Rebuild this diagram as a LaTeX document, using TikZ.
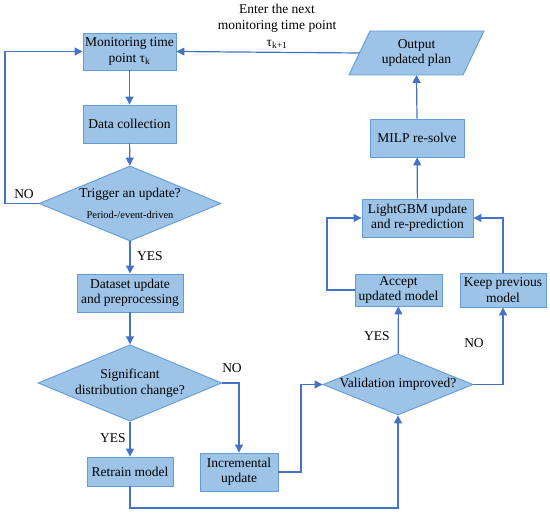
\documentclass[tikz,border=0pt]{standalone}
\usepackage{fontspec}
\setmainfont{Liberation Serif}
\usetikzlibrary{shapes.geometric,arrows.meta}
\definecolor{boxfill}{RGB}{157,195,230}
\definecolor{boxline}{RGB}{100,155,215}
\definecolor{arr}{RGB}{68,114,196}
\newcommand{\mainsz}{\rmfamily\fontsize{13.5}{15.5}\selectfont}
\tikzset{
  base/.style={draw=boxline, fill=boxfill, line width=0.9pt, inner sep=1pt, align=center, font=\mainsz},
  box/.style={base, rectangle},
  dia/.style={base, diamond},
  conn/.style={draw=arr, line width=1.2pt, -{Triangle[length=8pt,width=8pt]}},
  lab/.style={font=\mainsz, inner sep=0pt}
}
\begin{document}
\begin{tikzpicture}[x=1pt,y=-1pt]
\useasboundingbox (0,0) rectangle (550,513);
% nodes
\node[box, minimum width=93, minimum height=37] (mon) at (129.5,51.5) {Monitoring time\\point τ\textsubscript{k}};
\node[box, minimum width=93, minimum height=38] (data) at (129.5,124) {Data collection};
\node[dia, minimum width=182, minimum height=75, aspect=2.4] (trig) at (130,203.5) {Trigger an update?\\[5pt]{\rmfamily\fontsize{10.5}{12}\selectfont Period-/event-driven}};
\node[box, minimum width=106, minimum height=38] (ds) at (130,293) {Dataset update\\and preprocessing};
\node[dia, minimum width=183, minimum height=76, aspect=2.4] (sig) at (130,383) {Significant\\distribution change?};
\node[box, minimum width=86, minimum height=29] (ret) at (130,471.5) {Retrain model};
\node[box, minimum width=78, minimum height=38] (inc) at (239,472) {Incremental\\update};
\node[dia, minimum width=150, minimum height=61, aspect=2.46, inner sep=0pt] (val) at (398,384.5) {Validation improved?};
\node[box, minimum width=87, minimum height=32] (acc) at (398.5,290) {Accept\\updated model};
\node[box, minimum width=86, minimum height=34] (keep) at (503,290) {Keep previous\\model};
\node[box, minimum width=111, minimum height=38] (lgb) at (417.5,218) {LightGBM update\\and re-prediction};
\node[box, minimum width=94, minimum height=38] (milp) at (417,138) {MILP re-solve};
\draw[draw=boxline, fill=boxfill, line width=0.9pt] (349,75) -- (370,31) -- (484,31) -- (463,75) -- cycle;
\coordinate (outB) at (416.5,75);
\coordinate (outL) at (359.5,53);
\node[lab, align=center] (out) at (416.5,53) {Output\\updated plan};
\node[lab, align=center, font=\rmfamily\fontsize{13.5}{16.5}\selectfont] (enter) at (277,26) {Enter the next\\monitoring time point\\τ\textsubscript{k+1}};
% labels
\node[lab] (no1) at (24,194) {NO};
\node[lab] (yes1) at (150,256) {YES};
\node[lab] (no2) at (232,368) {NO};
\node[lab] (yes2) at (113,438) {YES};
\node[lab] (yes3) at (377,336) {YES};
\node[lab] (no3) at (474,343) {NO};
% connectors
\draw[conn] (mon) -- (data);
\draw[conn] (data) -- (trig);
\draw[conn] (trig.west) -- (5,203.5) -- (5,51.5) -- (mon.west);
\draw[conn] (trig) -- (ds);
\draw[conn] (ds) -- (sig);
\draw[conn] (sig) -- (ret);
\draw[conn] (sig.east) -| (inc.north);
\draw[conn] (ret.south) -- (130,508) -| (val.south);
\draw[conn] (inc.east) -- (301,472) |- (val.west);
\draw[conn] (val) -- (acc);
\draw[conn] (val.east) -| (keep.south);
\draw[conn] (acc.west) -- (327,290) |- (lgb.west);
\draw[conn] (keep.north) |- (lgb.east);
\draw[conn] (lgb) -- (milp);
\draw[conn] (milp.north) -- (outB);
\draw[conn] (outL) -- (mon.east);
\end{tikzpicture}
\end{document}
